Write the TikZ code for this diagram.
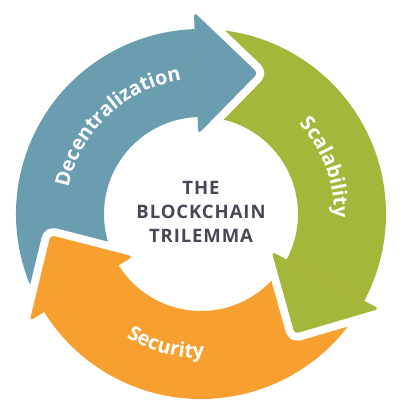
\documentclass[tikz,border=0pt]{standalone}
\usepackage{fontspec}
\setmainfont{Open Sans}
\newfontfamily\titlefnt[LetterSpace=5]{Open Sans}
\usetikzlibrary{decorations.text}
\definecolor{cblue}{HTML}{6A9DB0}
\definecolor{cgreen}{HTML}{A5B73B}
\definecolor{corange}{HTML}{F8A02F}
\definecolor{ctext}{HTML}{474857}
\newcommand\arcfnt{\bfseries\fontsize{20}{20}\selectfont}
\begin{document}
\begin{tikzpicture}[x=1pt,y=1pt,
  headgap/.style={draw=white, line width=16pt, line join=round, rounded corners=4pt},
  headfill/.style={fill=#1, rounded corners=4pt},
  title/.style={anchor=base, text=ctext, font=\titlefnt\bfseries\fontsize{18.5}{18.5}\selectfont},
  arclabel/.style={decorate, decoration={text along path, text align=center, text color=white, text={|\arcfnt|#1}}}
]
\useasboundingbox (-201,-195) rectangle (205,214);
% bodies
\fill[cblue] (212:185) arc[start angle=212, end angle=90.5, radius=185pt] -- (90.5:97) arc[start angle=90.5, end angle=212, radius=97pt] -- cycle;
\fill[cgreen] (92:185) arc[start angle=92, end angle=-29.5, radius=185pt] -- (-29.5:97) arc[start angle=-29.5, end angle=92, radius=97pt] -- cycle;
\fill[corange] (-28:185) arc[start angle=-28, end angle=-149.5, radius=185pt] -- (-149.5:97) arc[start angle=-149.5, end angle=-28, radius=97pt] -- cycle;
% heads
\draw[headgap] (92:202) -- (68:152) -- (92:80);
\fill[headfill=cblue] (92:202) -- (68:152) -- (92:80) -- cycle;
\draw[headgap] (-28:202) -- (-52:152) -- (-28:80);
\fill[headfill=cgreen] (-28:202) -- (-52:152) -- (-28:80) -- cycle;
\draw[headgap] (-148:202) -- (-172:152) -- (-148:80);
\fill[headfill=corange] (-148:202) -- (-172:152) -- (-148:80) -- cycle;
% labels
\path[arclabel=Decentralization] (176:135) arc[start angle=176, end angle=91, radius=135pt];
\path[arclabel=Scalability] (50:133) arc[start angle=50, end angle=-9, radius=133pt];
\path[arclabel=Security] (230:144) arc[start angle=230, end angle=280, radius=144pt];
\node[title] (t1) at (0,19) {THE};
\node[title] (t2) at (0,-4.5) {BLOCKCHAIN};
\node[title] (t3) at (0,-29) {TRILEMMA};
\end{tikzpicture}
\end{document}
